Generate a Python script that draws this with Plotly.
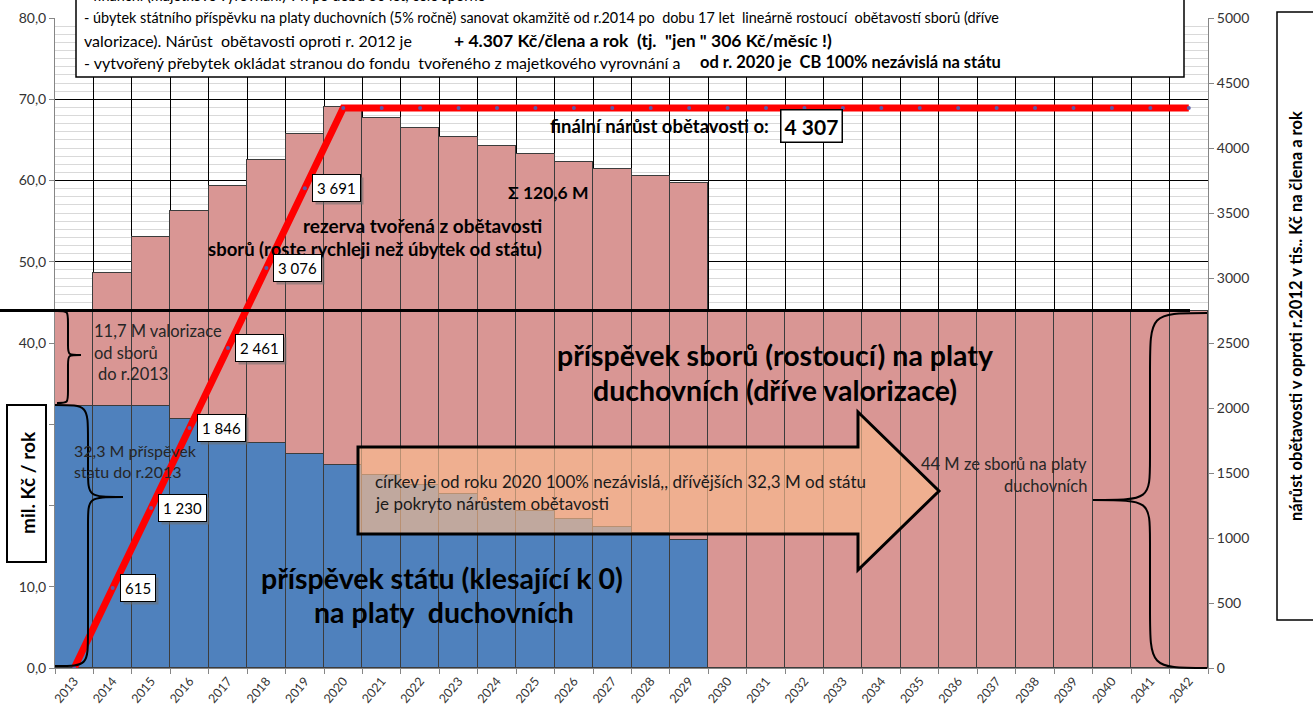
import plotly.graph_objects as go

# ---------------- data ----------------
years = [str(y) for y in range(2013, 2043)]
stat = [32.3, 32.3, 32.2, 30.6, 29.1, 27.7, 26.3, 25.0, 23.7, 22.5, 21.4, 20.3, 19.3, 18.3, 17.4,
        16.6, 15.7, 0, 0, 0, 0, 0, 0, 0, 0, 0, 0, 0, 0, 0]
sbory = [11.7, 16.3, 20.9, 25.6, 30.2, 34.8, 39.4, 44.0, 44.0, 44.0, 44.0, 44.0, 44.0, 44.0, 44.0,
         44.0, 44.0, 44.0, 44.0, 44.0, 44.0, 44.0, 44.0, 44.0, 44.0, 44.0, 44.0, 44.0, 44.0, 44.0]
narust = [0, 615, 1230, 1846, 2461, 3076, 3691, 4307, 4307, 4307, 4307, 4307, 4307, 4307, 4307,
          4307, 4307, 4307, 4307, 4307, 4307, 4307, 4307, 4307, 4307, 4307, 4307, 4307, 4307, 4307]
labelled = [1, 2, 3, 4, 5, 6]

FONT = "Lato"
BLUE = "#4F81BD"
PINK = "#D99694"

# ---------------- layout geometry ----------------
WIDTH, HEIGHT = 1313, 722
L, T, R, B = 55, 18, 105, 54
PW, PH = WIDTH - L - R, HEIGHT - T - B
YMAX = 80


def fx(x):
    return (x - L) / PW


def fy(y):
    return (T + PH - y) / PH


def fmt(v):
    return f"{v:,}".replace(",", " ")


fig = go.Figure()
fig.add_trace(go.Bar(x=years, y=stat, marker=dict(color=BLUE, line=dict(color="#3c3c3c", width=1)),
                     name="stát"))
fig.add_trace(go.Bar(x=years, y=sbory, marker=dict(color=PINK, line=dict(color="#3c3c3c", width=1)),
                     name="sbory"))
fig.add_trace(go.Scatter(x=years, y=narust, yaxis="y2", mode="lines+markers",
                         line=dict(color="#FF0000", width=7),
                         marker=dict(size=4, color="#5A5AA8"), name="nárůst"))

shapes = []
annotations = []


def ann(x, y, text, size=14, bold=False, xanchor="left", yanchor="middle", color="black", **kw):
    if bold:
        text = "<b>" + text + "</b>"
    d = dict(x=fx(x), y=fy(y), xref="paper", yref="paper", text=text, showarrow=False,
             xanchor=xanchor, yanchor=yanchor, font=dict(family=FONT, size=size, color=color))
    d.update(kw)
    annotations.append(d)


def P(x, y):
    return f"{fx(x):.5f},{fy(y):.5f}"


# top text box
shapes.append(dict(type="rect", xref="paper", yref="paper", x0=fx(76), x1=fx(1184), y0=fy(-10), y1=fy(77),
                   fillcolor="white", line=dict(color="black", width=1.5), layer="above"))
ann(82, -4, "- finanční (majetkové vyrovnání) v r. po dobu 30 let, celé sporné", 14.5)
ann(82, 17, "- úbytek státního příspěvku na platy duchovních (5% ročně) sanovat okamžitě od r.2014 po  dobu 17 let  "
            "lineárně rostoucí  obětavostí sborů (dříve", 14.4)
ann(82, 40, "valorizace). Nárůst  obětavosti oproti r. 2012 je", 16)
ann(452, 40, "+ 4.307 Kč/člena a rok  (tj.  \"jen \" 306 Kč/měsíc !)", 17.5, True)
ann(82, 62, "- vytvořený přebytek okládat stranou do fondu  tvořeného z majetkového vyrovnání a", 16)
ann(698, 62, "od r. 2020 je  CB 100% nezávislá na státu", 16.5, True)

# 44 M line
total0 = stat[0] + sbory[0]
y44 = T + PH - total0 / YMAX * PH
shapes.append(dict(type="line", xref="paper", yref="paper", x0=fx(0), x1=fx(1190), y0=fy(y44), y1=fy(y44),
                   line=dict(color="black", width=3), layer="above"))

# arrow
arrow = ("M " + P(358, 447) + " L " + P(858, 447) + " L " + P(858, 412) + " L " + P(939, 491) +
         " L " + P(858, 570) + " L " + P(858, 534) + " L " + P(358, 534) + " Z")
shapes.append(dict(type="path", xref="paper", yref="paper", path=arrow,
                   fillcolor="rgba(250,188,142,0.66)", line=dict(color="black", width=3), layer="above"))


def brace(xa, xs, xt, yt, yb, ym, r, r2):
    # ends at xa, spine at xs, tip at xt
    return ("M " + P(xa, yt) + " C " + P(xs, yt) + " " + P(xs, yt) + " " + P(xs, yt + r) +
            " L " + P(xs, ym - r2) + " C " + P(xs, ym) + " " + P(xs, ym) + " " + P(xt, ym) +
            " C " + P(xs, ym) + " " + P(xs, ym) + " " + P(xs, ym + r2) +
            " L " + P(xs, yb - r) + " C " + P(xs, yb) + " " + P(xs, yb) + " " + P(xa, yb))


for b in [brace(57, 68, 81, 311, 403, 355, 12, 10),
          brace(55, 88, 123, 405, 666, 497, 36, 28),
          brace(1207, 1150, 1093, 313, 668, 500, 60, 43)]:
    shapes.append(dict(type="path", xref="paper", yref="paper", path=b,
                       line=dict(color="black", width=2), layer="above"))

# left title box
shapes.append(dict(type="rect", xref="paper", yref="paper", x0=fx(7), x1=fx(46), y0=fy(405), y1=fy(562),
                   fillcolor="white", line=dict(color="black", width=2), layer="above"))
ann(27, 483, "mil. Kč / rok", 19, True, xanchor="center", textangle=-90)

# right title box
shapes.append(dict(type="rect", xref="paper", yref="paper", x0=fx(1277), x1=fx(1325), y0=fy(12), y1=fy(620),
                   fillcolor="white", line=dict(color="black", width=1.5), layer="above"))
ann(1296, 316, "nárůst obětavosti v oproti r.2012 v tis.. Kč na člena a rok", 16.5, True, xanchor="center",
    textangle=-90)

# text in chart
ann(544, 225, "rezerva tvořená z obětavosti", 19, True, xanchor="right")
ann(544, 249, "sborů (roste rychleji než úbytek od státu)", 18.5, True, xanchor="right")
ann(548, 192, "Σ 120,6 M", 17.5, True, xanchor="center")
ann(771, 126, "finální nárůst obětavosti o:", 18.5, True, xanchor="right")
ann(780, 126, fmt(max(narust)), 21, True, xanchor="left", bgcolor="white", bordercolor="black",
    borderwidth=1.5, borderpad=3)
ann(92, 331, "11,7 M valorizace", 16.5, color="#262626")
ann(92, 353, "od sborů", 16.5, color="#262626")
ann(96, 374, "do r.2013", 16.5, color="#262626")
ann(72, 450, "32,3 M příspěvek", 16, color="#262626")
ann(72, 471, "statu do r.2013", 16, color="#262626")
ann(775, 355, "příspěvek sborů (rostoucí) na platy", 28.5, True, xanchor="center")
ann(775, 390, "duchovních (dříve valorizace)", 28.5, True, xanchor="center")
ann(442, 578, "příspěvek státu (klesající k 0)", 28.5, True, xanchor="center")
ann(444, 612, "na platy  duchovních", 28.5, True, xanchor="center")
ann(373, 481, "církev je od roku 2020 100% nezávislá,, dřívějších 32,3 M od státu", 17, color="#1a1a1a")
ann(373, 503, "je pokryto nárůstem obětavosti", 17, color="#1a1a1a")
ann(1089, 464, "44 M ze sborů na platy", 16.5, xanchor="right", color="#262626")
ann(1089, 486, "duchovních", 16.5, xanchor="right", color="#262626")

# data labels for the red line (x given as category index)
for i in labelled:
    annotations.append(dict(x=i, y=narust[i], xref="x", yref="y2", text=fmt(narust[i]),
                            showarrow=False, xanchor="left", yanchor="middle", xshift=10, yshift=-3,
                            font=dict(family=FONT, size=15, color="rgba(0,0,0,0)"),
                            bgcolor="rgba(110,110,110,0.55)", borderpad=4, borderwidth=1,
                            bordercolor="rgba(0,0,0,0)"))
    annotations.append(dict(x=i, y=narust[i], xref="x", yref="y2", text=fmt(narust[i]),
                            showarrow=False, xanchor="left", yanchor="middle", xshift=7,
                            font=dict(family=FONT, size=15, color="black"),
                            bgcolor="white", bordercolor="black", borderwidth=1, borderpad=4))

fig.update_layout(
    width=WIDTH, height=HEIGHT, autosize=False,
    margin=dict(l=L, r=R, t=T, b=B),
    barmode="stack", bargap=0,
    paper_bgcolor="white", plot_bgcolor="white",
    showlegend=False,
    separators=", ",
    font=dict(family=FONT, color="#333333"),
    xaxis=dict(type="category", range=[-0.5, len(years) - 0.5], autorange=False,
               tickson="boundaries", ticks="outside", ticklen=5, tickcolor="#868686",
               showgrid=True, gridcolor="black", gridwidth=1, showline=True, linecolor="#868686",
               tickangle=-50, tickfont=dict(size=12.5, color="#333333"), automargin=False),
    yaxis=dict(range=[0, YMAX], dtick=10, tickformat=".1f", ticks="outside", ticklen=5, tickcolor="#868686",
               showgrid=True, gridcolor="black", gridwidth=1, showline=True, linecolor="#868686",
               minor=dict(dtick=1, showgrid=True, gridcolor="#D9D9D9", gridwidth=1),
               tickfont=dict(size=14, color="#333333"), automargin=False, zeroline=False),
    yaxis2=dict(range=[0, 5000], dtick=500, tickformat="d", overlaying="y", side="right", ticks="outside",
                ticklen=5, tickcolor="#868686", showgrid=False, showline=True, linecolor="#868686",
                tickfont=dict(size=14, color="#333333"), automargin=False, zeroline=False),
    shapes=shapes,
    annotations=annotations,
)

fig.write_html("out.html", config={"displayModeBar": False},
               post_script="document.body.style.margin='0';document.body.style.overflow='hidden';")
